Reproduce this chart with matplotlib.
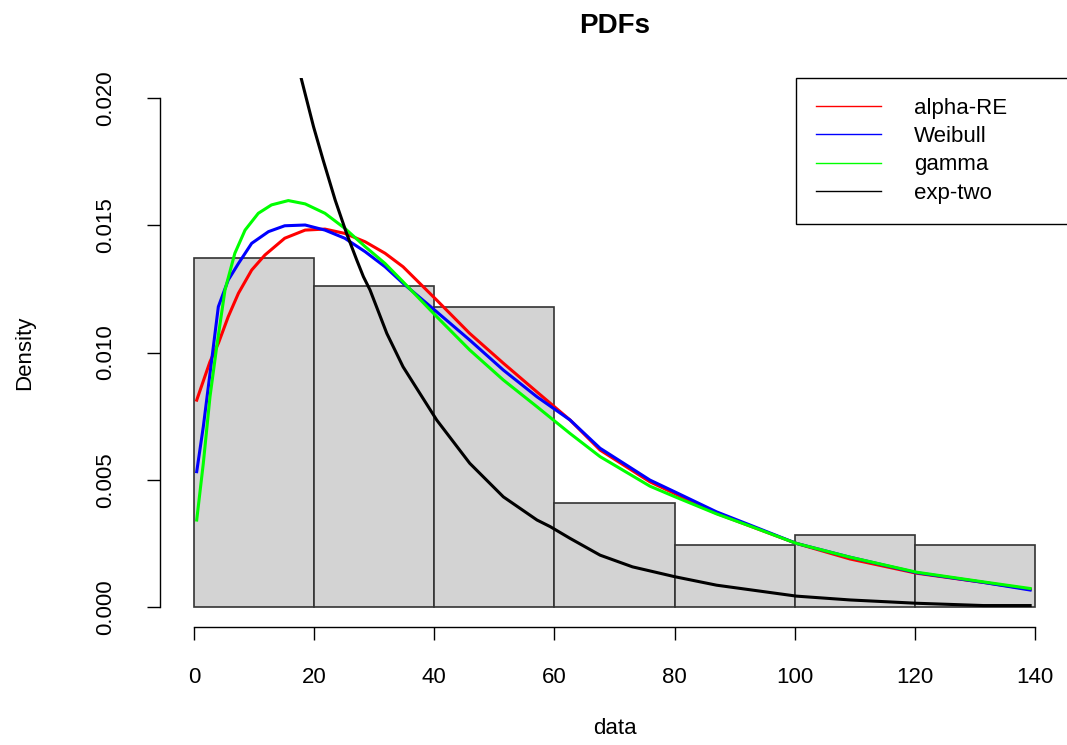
import numpy as np
import matplotlib
matplotlib.use("Agg")
import matplotlib.pyplot as plt
from matplotlib.lines import Line2D

plt.rcParams['font.family'] = ['Liberation Sans', 'DejaVu Sans']

# histogram on the density scale, bins of width 20
bin_edges = [0, 20, 40, 60, 80, 100, 120, 140]
bin_density = [0.0137, 0.0126, 0.0118, 0.00407, 0.00244, 0.00285, 0.00244]

# fitted pdfs
x_alpha = [0.45, 2.66, 4.05, 5.7, 7.4, 9.6, 11.8, 15.1, 18.5, 21.8, 25.1, 28.5,
           31.8, 34.8, 40.4, 45.9, 51.5, 57.1, 62.6, 67.6, 75.9, 80.1, 87.0,
           92.6, 100.3, 109.2, 120.3, 131.4, 139.2]
y_alpha = [0.00813, 0.00964, 0.01036, 0.01141, 0.01233, 0.01324, 0.01383,
           0.01449, 0.01481, 0.01485, 0.01468, 0.01435, 0.0139, 0.01337,
           0.01206, 0.01075, 0.00958, 0.00845, 0.00735, 0.00617, 0.00492,
           0.00445, 0.00368, 0.00318, 0.0025, 0.00189, 0.00133, 0.00097, 0.0007]

x_weib = [0.45, 1.55, 2.94, 4.05, 5.7, 7.4, 9.6, 12.4, 15.1, 18.5, 21.8, 25.1,
          28.5, 31.8, 34.8, 40.4, 45.9, 51.5, 57.1, 62.6, 67.6, 75.9, 80.1,
          87.0, 92.6, 100.3, 109.2, 120.3, 131.4, 139.2]
y_weib = [0.00532, 0.00709, 0.0097, 0.0118, 0.01285, 0.0135, 0.01429, 0.01475,
          0.01498, 0.01501, 0.01481, 0.01449, 0.01396, 0.01337, 0.01272,
          0.0116, 0.01049, 0.00931, 0.00826, 0.00735, 0.00624, 0.00499,
          0.00452, 0.00374, 0.00322, 0.0025, 0.00196, 0.00135, 0.00097, 0.00067]

x_gam = [0.45, 1.55, 2.66, 3.78, 5.16, 6.8, 8.5, 10.7, 12.9, 15.7, 18.5, 21.8,
         25.1, 28.5, 31.8, 34.8, 40.4, 45.9, 51.5, 57.1, 62.6, 67.6, 75.9,
         80.1, 87.0, 92.6, 100.3, 109.2, 120.3, 131.4, 139.2]
y_gam = [0.00342, 0.00565, 0.00826, 0.01023, 0.01246, 0.0139, 0.01481,
         0.01547, 0.0158, 0.01597, 0.01584, 0.01547, 0.01488, 0.01416, 0.0135,
         0.01278, 0.01141, 0.0101, 0.00892, 0.00787, 0.00682, 0.00591,
         0.00475, 0.00433, 0.00366, 0.00318, 0.0025, 0.00196, 0.00137,
         0.00099, 0.00073]

x_exp2 = [17.6, 19.9, 21.5, 23.5, 25.4, 27.1, 28.2, 29.3, 32.1, 34.8, 40.4,
          45.9, 51.5, 57.1, 59.3, 62.6, 67.6, 73.0, 80.1, 87.0, 100.3, 109.2,
          120.3, 131.4, 139.2]
y_exp2 = [0.0210, 0.01887, 0.01756, 0.01599, 0.01468, 0.01363, 0.01298,
          0.01246, 0.01075, 0.00944, 0.00735, 0.00565, 0.00433, 0.00342,
          0.00316, 0.0027, 0.00204, 0.00158, 0.00119, 0.00086, 0.00043,
          0.00028, 0.00015, 0.00006, 0.00006]

legend_labels = ['alpha-RE', 'Weibull', 'gamma', 'exp-two']
line_colors = ['#ff0000', '#0000ff', '#00ff00', '#000000']

x_ticks = [0, 20, 40, 60, 80, 100, 120, 140]
y_ticks = [0.0, 0.005, 0.010, 0.015, 0.020]
y_tick_labels = ['0.000', '0.005', '0.010', '0.015', '0.020']

fig = plt.figure(figsize=(10.67, 7.45), dpi=100)
ax = fig.add_axes([0.1503, 0.1578, 0.8512, 0.7380])

ax.bar(bin_edges[:-1], bin_density, width=np.diff(bin_edges), align='edge',
       color='#d3d3d3', edgecolor='#333333', linewidth=1.2)

series = [(x_alpha, y_alpha), (x_weib, y_weib), (x_gam, y_gam), (x_exp2, y_exp2)]
for (xs, ys), c in zip(series, line_colors):
    ax.plot(xs, ys, color=c, lw=2.2)

ax.set_xlim(-5.6, 145.6)
ax.set_ylim(-0.0008, 0.0208)

for s in ['top', 'right']:
    ax.spines[s].set_visible(False)
ax.spines['left'].set_bounds(0, 0.02)
ax.spines['bottom'].set_bounds(0, 140)
for s in ['left', 'bottom']:
    ax.spines[s].set_linewidth(1.0)

ax.set_xticks(x_ticks)
ax.set_yticks(y_ticks)
ax.set_yticklabels(y_tick_labels, rotation=90, va='center')
ax.tick_params(axis='both', direction='out', length=9.5, width=1.0, labelsize=16)
ax.tick_params(axis='x', pad=19)
ax.tick_params(axis='y', pad=22)

ax.set_title('PDFs', fontsize=20, fontweight='bold', pad=32)
ax.set_xlabel('data', fontsize=16)
ax.xaxis.set_label_coords(0.5, -0.165)
ax.set_ylabel('Density', fontsize=16)
ax.yaxis.set_label_coords(-0.138, 0.5)

handles = [Line2D([], [], color=c, lw=1) for c in line_colors]
leg = ax.legend(handles, legend_labels, loc='upper left',
                bbox_to_anchor=(0.700, 0, 0.30, 1.0), mode='expand',
                borderaxespad=0, fancybox=False, edgecolor='black', framealpha=1,
                fontsize=16, handlelength=2.9, handletextpad=1.5,
                borderpad=0.9, labelspacing=0.33)
leg.get_frame().set_linewidth(1.0)

fig.savefig('out.png', dpi=100)
